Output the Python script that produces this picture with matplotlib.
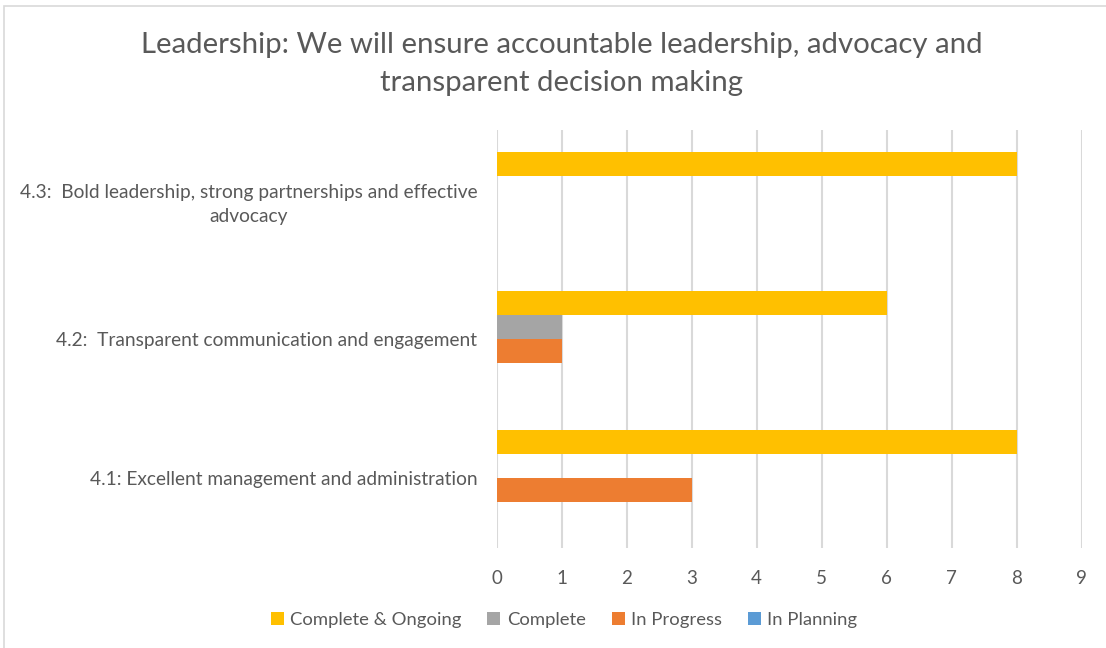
import matplotlib.pyplot as plt
import numpy as np
from matplotlib.patches import Patch, Rectangle

# === DATA ===
categories = [
    "4.1: Excellent management and administration",
    "4.2:  Transparent communication and engagement",
    "4.3:  Bold leadership, strong partnerships and effective\nadvocacy",
]
series_names = ["Complete & Ongoing", "Complete", "In Progress", "In Planning"]
complete_ongoing = [8, 6, 8]
complete = [0, 1, 0]
in_progress = [3, 1, 0]
in_planning = [0, 0, 0]
series_values = [complete_ongoing, complete, in_progress, in_planning]
colors = ["#FFC000", "#A5A5A5", "#ED7D31", "#5B9BD5"]
x_ticks = list(range(0, 10))

plt.rcParams["font.family"] = ["Lato", "DejaVu Sans"]
text_color = "#595959"

fig = plt.figure(figsize=(11.06, 6.48), dpi=100)
ax = fig.add_axes([0.449, 0.1543, 0.529, 0.645])

# grouped horizontal bars, first series on top of each group
bar_h = 0.172
y = np.arange(len(categories))
offsets = [1.5, 0.5, -0.5, -1.5]
for vals, off, col, name in zip(series_values, offsets, colors, series_names):
    ax.barh(y + off * bar_h, vals, height=bar_h, color=col, label=name, zorder=3)

ax.set_xlim(0, 9)
ax.set_ylim(-0.5, 2.5)
ax.set_xticks(x_ticks)
ax.set_yticks(y)
ax.set_yticklabels(categories, multialignment="center", linespacing=1.5)
ax.tick_params(axis="both", length=0, colors=text_color)
ax.tick_params(axis="x", pad=16, labelsize=13.5)
ax.tick_params(axis="y", pad=14, labelsize=13.8)
ax.grid(axis="x", color="#D9D9D9", linewidth=1.5, zorder=0)
for s in ax.spines.values():
    s.set_visible(False)

fig.suptitle("Leadership: We will ensure accountable leadership, advocacy and\ntransparent decision making",
             x=0.508, y=0.95, va="top", fontsize=21.2, color=text_color, linespacing=1.55)

handles = [Patch(facecolor=c, edgecolor="none") for c in colors]
fig.legend(handles, series_names, loc="center", bbox_to_anchor=(0.51, 0.043), ncol=4,
           frameon=False, fontsize=13.3, labelcolor=text_color, handlelength=0.7,
           handleheight=0.7, handletextpad=0.35, columnspacing=1.4)

# chart border
fig.patches.append(Rectangle((4 / 1106, -0.01), 1.1, 1 - 6 / 648 + 0.01,
                             transform=fig.transFigure, fill=False,
                             edgecolor="#D9D9D9", linewidth=1.2))

fig.savefig("out.png", dpi=100)
